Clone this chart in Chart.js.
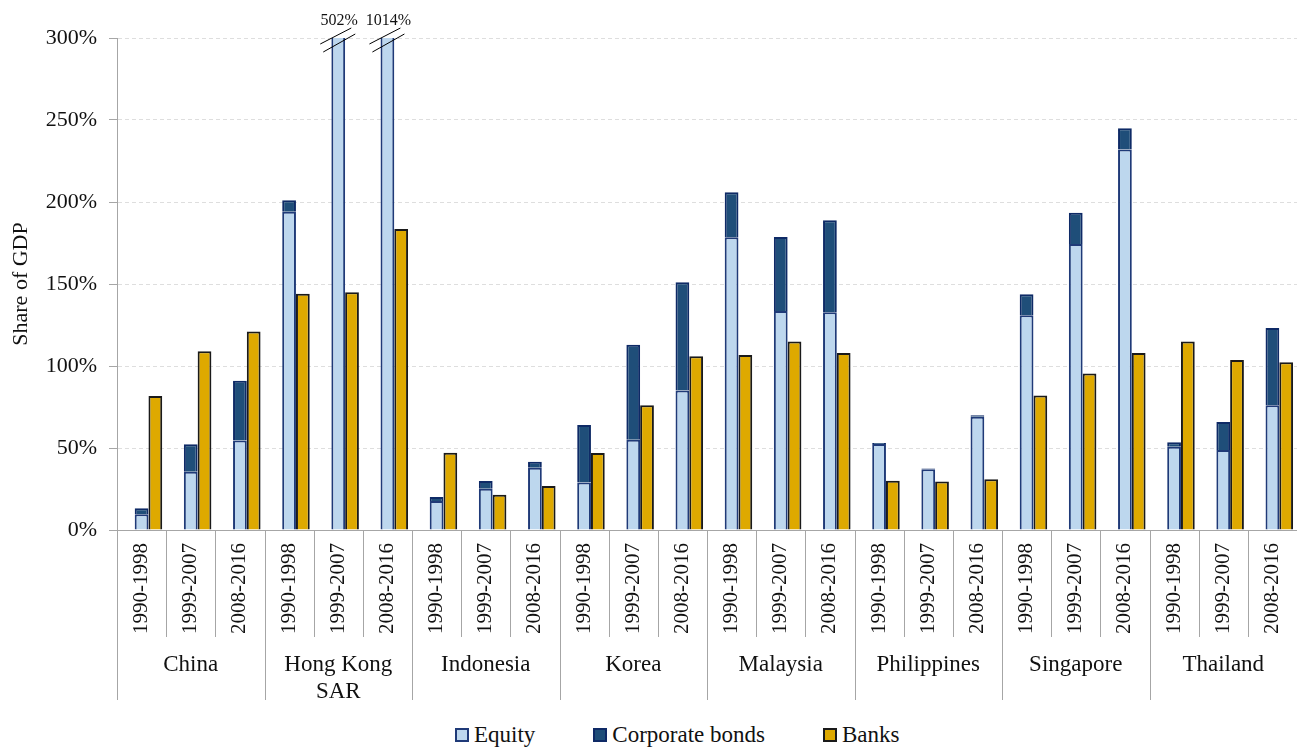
<!DOCTYPE html>
<html>
<head>
<meta charset="utf-8">
<script src="https://cdn.jsdelivr.net/npm/chart.js@4/dist/chart.umd.min.js"></script>
<style>
    html, body { margin: 0; padding: 0; background: #fff; }
    body { width: 1297px; height: 747px; position: relative; overflow: hidden; }
    #wrap { width: 1297px; height: 705px; }
    #legend {
        position: absolute; left: 455px; top: 722px; height: 26px;
        display: flex; align-items: center; gap: 58px;
        font-family: 'Liberation Serif', 'DejaVu Serif', serif; font-size: 23px; color: #111;
    }
    #legend .item { display: flex; align-items: center; gap: 5px; }
    #legend .box { width: 10px; height: 10px; border-width: 2px; border-style: solid; }
</style>
</head>
<body>
<div id="wrap"><canvas id="chart"></canvas></div>
<div id="legend"></div>
<script>
// periods repeat inside each country
const countries = ["China", ["Hong Kong", "SAR"], "Indonesia", "Korea", "Malaysia", "Philippines", "Singapore", "Thailand"]
const periods = ["1990-1998", "1999-2007", "2008-2016"]
const labels = countries.flatMap(() => periods)

// share of GDP, %
const equity = [9.6, 35.5, 54.5, 194, 502, 1014, 17.7, 25.2, 38, 29, 55, 85, 178.5, 133.5, 132.7, 52.4, 37, 69, 131, 174.4, 232, 50.8, 48.8, 76]
const bonds = [3.6, 16.8, 36.5, 7, 0, 0, 2.4, 4.7, 3.6, 35, 58, 66, 27.5, 45.2, 56.1, 0.6, 0.5, 1, 12.7, 19.1, 13, 2.7, 17.1, 47.2]
const banks = [81.7, 109, 121, 144, 145, 183.5, 47.1, 21.5, 26.8, 47, 76, 106, 106.7, 115, 108, 30, 29.5, 31, 82, 95.5, 108, 115, 103.7, 102.3]

const yMax = 300
const barPct = 0.28 // bar width as a share of one category
const serif = "'Liberation Serif', 'DejaVu Serif', serif"

/**
 * Draw category separators and the axis breaks of clipped bars
 */
const extrasPlugin = {
    id: "extras",
    afterDraw(chart) {
        const ctx = chart.ctx
        const x = chart.scales.x
        const x2 = chart.scales.x2
        const y = chart.scales.y
        const area = chart.chartArea
        ctx.save()
        ctx.strokeStyle = "#a6a6a6"
        ctx.lineWidth = 1
        for (let i = 0; i <= labels.length; i++) {
            const px = Math.round(x.getPixelForValue(i - 0.5)) + 0.5
            const isCountry = i % periods.length === 0
            ctx.beginPath()
            ctx.moveTo(px, area.bottom)
            ctx.lineTo(px, isCountry ? x2.bottom : x.bottom)
            ctx.stroke()
        }

        // break marks for bars above the axis maximum
        const meta = chart.getDatasetMeta(0)
        const top = y.getPixelForValue(yMax)
        ctx.strokeStyle = "#000"
        ctx.fillStyle = "#111"
        ctx.font = "16px " + serif
        ctx.textAlign = "center"
        ctx.textBaseline = "bottom"
        equity.forEach((v, i) => {
            if (v + bonds[i] <= yMax) return
            const cx = meta.data[i].x
            ctx.beginPath()
            ctx.moveTo(cx - 18, top + 6)
            ctx.lineTo(cx + 13, top - 10)
            ctx.moveTo(cx - 15, top + 14)
            ctx.lineTo(cx + 17, top - 4)
            ctx.stroke()
            ctx.fillText(Math.round(v + bonds[i]) + "%", cx + 1, top - 9)
        })
        ctx.restore()
    }
}

const chart = new Chart(document.getElementById("chart"), {
    type: "bar",
    data: {
        labels: labels,
        datasets: [{
            label: "Equity",
            data: equity,
            stack: "market",
            grouped: false,
            backgroundColor: "#bdd7ee",
            borderColor: "#1f3a78",
            borderWidth: 2,
            clip: 0,
        }, {
            label: "Corporate bonds",
            data: bonds,
            stack: "market",
            grouped: false,
            backgroundColor: "#1f4e79",
            borderColor: "#0e2a66",
            borderWidth: 2,
            clip: 0,
        }, {
            // banks sit just right of the stacked bar, on a shifted hidden axis
            label: "Banks",
            data: banks.map((v, i) => ({ x: i, y: v })),
            xAxisID: "xb",
            stack: "banks",
            grouped: false,
            backgroundColor: "#dea900",
            borderColor: "#1a1a1a",
            borderWidth: 2,
            clip: 0,
        }]
    },
    options: {
        responsive: true,
        maintainAspectRatio: false,
        animation: false,
        categoryPercentage: barPct,
        barPercentage: 1,
        layout: { padding: { top: 38, left: 0, right: -6, bottom: 5 } },
        plugins: {
            tooltip: { enabled: false },
            legend: { display: false },
        },
        scales: {
            x: {
                stacked: true,
                offset: true,
                grid: { display: false, drawTicks: false },
                border: { color: "#a6a6a6" },
                ticks: {
                    autoSkip: false,
                    minRotation: 90,
                    maxRotation: 90,
                    padding: 13,
                    color: "#111",
                    font: { family: serif, size: 21 },
                },
                afterFit: (s) => { s.height = 107; s.paddingLeft = 0; s.paddingRight = 0 },
            },
            xb: {
                type: "linear",
                display: false,
                offset: false,
                min: -0.5 - barPct,
                max: labels.length - 0.5 - barPct,
                ticks: { stepSize: 1, includeBounds: false },
            },
            x2: {
                type: "category",
                labels: countries,
                position: "bottom",
                offset: true,
                grid: { display: false, drawTicks: false },
                border: { display: false },
                ticks: {
                    autoSkip: false,
                    maxRotation: 0,
                    padding: 15,
                    color: "#111",
                    font: { family: serif, size: 23, lineHeight: 1.15 },
                },
                afterFit: (s) => { s.height = 63; s.paddingLeft = 0; s.paddingRight = 0 },
            },
            y: {
                stacked: true,
                min: 0,
                max: yMax,
                ticks: {
                    stepSize: 50,
                    padding: 12,
                    color: "#111",
                    font: { family: serif, size: 22 },
                    callback: (v) => v + "%",
                },
                grid: {
                    color: "#dedede",
                    tickLength: 8,
                    tickColor: "#a6a6a6",
                    tickBorderDash: [],
                },
                border: { color: "#a6a6a6", dash: [4, 3] },
                title: {
                    display: true,
                    text: "Share of GDP",
                    color: "#111",
                    font: { family: serif, size: 22 },
                    padding: { top: 8, bottom: 4 },
                },
                afterFit: (s) => { s.width = 117 },
            }
        }
    },
    plugins: [extrasPlugin]
})

// legend built from the datasets
const legendEl = document.getElementById("legend")
chart.data.datasets.forEach((ds) => {
    const item = document.createElement("div")
    item.className = "item"
    const box = document.createElement("span")
    box.className = "box"
    box.style.background = ds.backgroundColor
    box.style.borderColor = ds.borderColor
    const text = document.createElement("span")
    text.textContent = ds.label
    item.append(box, text)
    legendEl.append(item)
})
</script>
</body>
</html>
